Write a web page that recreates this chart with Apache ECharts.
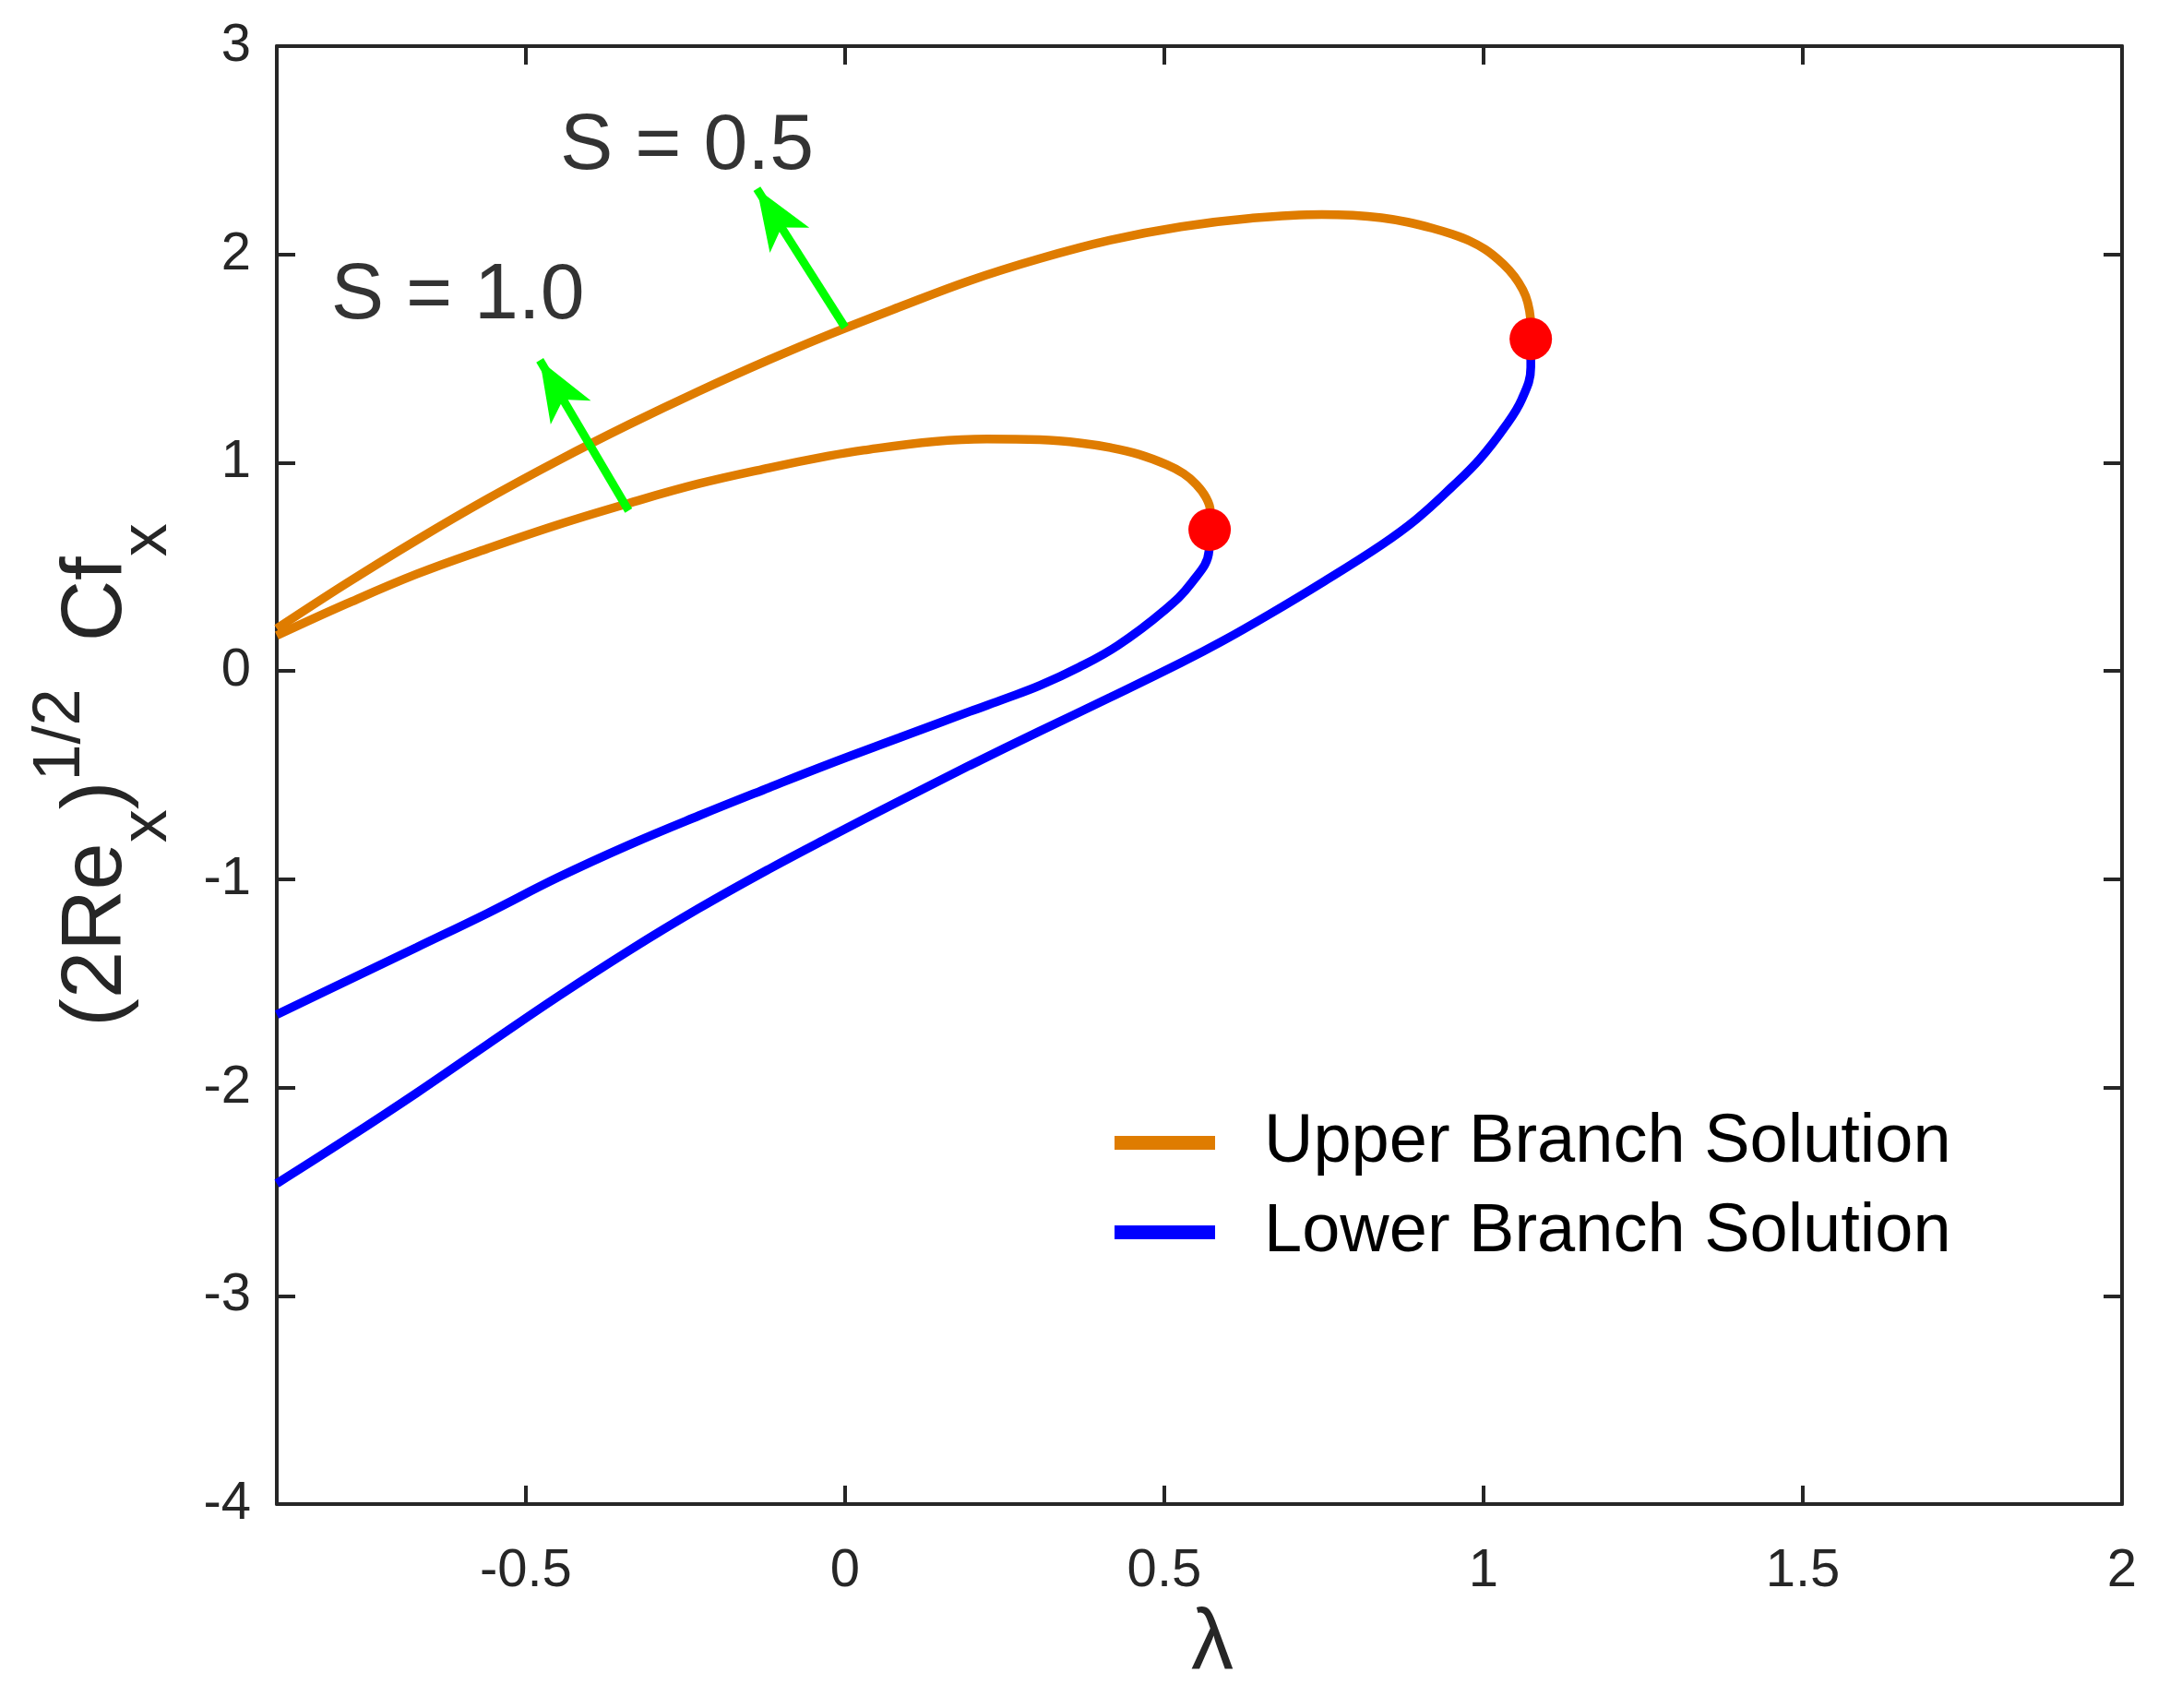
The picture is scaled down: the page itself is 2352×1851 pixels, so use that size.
<!DOCTYPE html>
<html>
<head>
<meta charset="utf-8">
<script src="https://cdn.jsdelivr.net/npm/echarts@6/dist/echarts.min.js"></script>
<style>
html,body{margin:0;padding:0;background:#fff;}
#c{width:2352px;height:1851px;}
</style>
</head>
<body>
<div id="c"></div>
<script>
// ---------------- data ----------------
const xMin = -0.89, xMax = 2;
const yMin = -4, yMax = 3;
const xTickValues = [-0.5, 0, 0.5, 1, 1.5, 2];

const seriesNames = ['Upper Branch Solution', 'Lower Branch Solution'];

// S = 0.5, upper branch
const upperS05X = [-0.89, -0.781, -0.671, -0.560, -0.450, -0.339, -0.229, -0.119, -0.026, 0.084, 0.195, 0.305, 0.416, 0.526, 0.636, 0.747, 0.795, 0.840, 0.881, 0.922, 0.952, 0.978, 1.002, 1.022, 1.040, 1.055, 1.066, 1.072, 1.074, 1.074];
const upperS05Y = [0.203, 0.420, 0.628, 0.826, 1.009, 1.182, 1.343, 1.494, 1.614, 1.746, 1.874, 1.980, 2.069, 2.133, 2.174, 2.192, 2.188, 2.176, 2.155, 2.124, 2.096, 2.065, 2.025, 1.978, 1.925, 1.865, 1.800, 1.729, 1.660, 1.594];
// S = 0.5, lower branch
const lowerS05X = [1.074, 1.074, 1.060, 1.033, 0.994, 0.950, 0.895, 0.840, 0.747, 0.664, 0.592, 0.526, 0.416, 0.305, 0.195, 0.084, -0.026, -0.119, -0.229, -0.339, -0.450, -0.560, -0.671, -0.781, -0.89];
const lowerS05Y = [1.594, 1.458, 1.305, 1.170, 1.017, 0.882, 0.729, 0.605, 0.424, 0.271, 0.145, 0.039, -0.126, -0.289, -0.454, -0.626, -0.800, -0.951, -1.140, -1.344, -1.564, -1.793, -2.026, -2.248, -2.461];
// S = 1.0, upper branch
const upperS10X = [-0.89, -0.781, -0.671, -0.560, -0.450, -0.339, -0.229, -0.119, -0.026, 0.029, 0.140, 0.222, 0.305, 0.370, 0.416, 0.460, 0.504, 0.530, 0.550, 0.565, 0.572, 0.571];
const upperS10Y = [0.170, 0.322, 0.465, 0.588, 0.702, 0.805, 0.899, 0.975, 1.032, 1.060, 1.102, 1.114, 1.110, 1.094, 1.072, 1.040, 0.990, 0.948, 0.896, 0.835, 0.770, 0.678];
// S = 1.0, lower branch
const lowerS10X = [0.571, 0.570, 0.543, 0.499, 0.427, 0.366, 0.305, 0.250, 0.195, 0.084, -0.026, -0.119, -0.229, -0.339, -0.450, -0.560, -0.671, -0.781, -0.89];
const lowerS10Y = [0.678, 0.576, 0.424, 0.288, 0.122, 0.017, -0.070, -0.134, -0.195, -0.322, -0.448, -0.560, -0.695, -0.836, -0.992, -1.163, -1.327, -1.489, -1.650];

// turning (critical) points
const critX = [1.074, 0.571];
const critY = [1.594, 0.678];

// annotations
const annText = ['S = 0.5', 'S = 1.0'];
const annX = [-0.447, -0.806];
const annY = [2.515, 1.797];

// arrows: base -> tip
const arrowFromX = [0.0, -0.339];
const arrowFromY = [1.65, 0.77];
const arrowToX = [-0.138, -0.478];
const arrowToY = [2.315, 1.492];

// ---------------- chart ----------------
const FONT = "'Liberation Sans', Arial, Helvetica, sans-serif";
const AX = '#262626';
const ORANGE = '#DF7C00';
const BLUE = '#0000FF';

const pairs = (xs, ys) => xs.map((x, i) => [x, ys[i]]);

const chart = echarts.init(document.getElementById('c'), null, {renderer: 'canvas', width: 2352, height: 1851});

const axisLineStyle = {color: AX, width: 4};
const tickStyle = {show: true, inside: true, length: 20, lineStyle: {color: AX, width: 4}};

const lineSeries = (name, data, color) => ({
  type: 'line', name, data, symbol: 'none', showSymbol: false, smooth: 0.4,
  lineStyle: {color, width: 9.5}, itemStyle: {color}, z: 2,
  emphasis: {disabled: true}, animation: false
});

const option = {
  animation: false,
  backgroundColor: '#ffffff',
  grid: {left: 300, top: 50, width: 2000, height: 1580},
  xAxis: [
    {
      type: 'value', min: xMin, max: xMax, position: 'bottom',
      axisLine: {show: true, onZero: false, lineStyle: axisLineStyle},
      axisTick: Object.assign({customValues: xTickValues}, tickStyle),
      axisLabel: {customValues: xTickValues, margin: 44, fontSize: 58, color: AX, fontFamily: FONT},
      splitLine: {show: false},
      name: 'λ', nameLocation: 'middle', nameGap: 107,
      nameTextStyle: {fontSize: 92, color: AX, fontFamily: FONT, padding: [0, 0, 0, 28]}
    },
    {
      type: 'value', min: xMin, max: xMax, position: 'top',
      axisLine: {show: true, onZero: false, lineStyle: axisLineStyle},
      axisTick: Object.assign({customValues: xTickValues}, tickStyle),
      axisLabel: {show: false}, splitLine: {show: false}
    }
  ],
  yAxis: [
    {
      type: 'value', min: yMin, max: yMax, interval: 1, position: 'left',
      axisLine: {show: true, onZero: false, lineStyle: axisLineStyle},
      axisTick: tickStyle,
      axisLabel: {margin: 28, fontSize: 58, color: AX, fontFamily: FONT},
      splitLine: {show: false},
      name: '{m|(2Re}{s|x}{m|)}{p|1/2}{m|  Cf}{s|x}',
      nameLocation: 'middle', nameRotate: 90, nameGap: 104,
      nameTextStyle: {
        color: AX, fontFamily: FONT, fontSize: 92,
        rich: {
          m: {fontSize: 92, fontFamily: FONT, color: AX, verticalAlign: 'bottom', padding: [0, 0, 44, 0]},
          s: {fontSize: 72, fontFamily: FONT, color: AX, verticalAlign: 'bottom', padding: [0, 0, 0, 0]},
          p: {fontSize: 72, fontFamily: FONT, color: AX, verticalAlign: 'bottom', padding: [0, 0, 94, 0]}
        }
      }
    },
    {
      type: 'value', min: yMin, max: yMax, interval: 1, position: 'right',
      axisLine: {show: true, onZero: false, lineStyle: axisLineStyle},
      axisTick: tickStyle,
      axisLabel: {show: false}, splitLine: {show: false}
    }
  ],
  legend: {
    data: seriesNames, orient: 'vertical', left: 1208, top: 1201, padding: 0,
    icon: 'rect', itemWidth: 109, itemHeight: 15, itemGap: 22, selectedMode: false,
    textStyle: {fontSize: 74, lineHeight: 75, color: '#000', fontFamily: FONT, padding: [0, 0, 0, 48]}
  },
  series: [
    lineSeries(seriesNames[0], pairs(upperS05X, upperS05Y), ORANGE),
    lineSeries(seriesNames[0], pairs(upperS10X, upperS10Y), ORANGE),
    lineSeries(seriesNames[1], pairs(lowerS05X, lowerS05Y), BLUE),
    lineSeries(seriesNames[1], pairs(lowerS10X, lowerS10Y), BLUE),
    {
      type: 'scatter', name: 'critical', data: pairs(critX, critY),
      symbol: 'circle', symbolSize: 46, itemStyle: {color: '#FF0000', opacity: 1}, z: 5,
      emphasis: {disabled: true}
    },
    {
      type: 'scatter', name: 'annotations', data: pairs(annX, annY),
      symbolSize: 1, itemStyle: {color: 'rgba(0,0,0,0)'}, z: 6,
      emphasis: {disabled: true},
      label: {
        show: true, position: 'right', distance: 0,
        formatter: p => annText[p.dataIndex],
        fontSize: 86, color: '#000', fontFamily: FONT
      },
      markLine: {
        silent: true, symbol: ['none', 'arrow'], symbolSize: [38, 66],
        label: {show: false}, emphasis: {disabled: true},
        lineStyle: {color: '#00FF00', width: 9, type: 'solid', opacity: 1},
        data: arrowFromX.map((x, i) => [
          {coord: [x, arrowFromY[i]]},
          {coord: [arrowToX[i], arrowToY[i]]}
        ])
      }
    }
  ]
};

chart.setOption(option);
</script>
</body>
</html>
